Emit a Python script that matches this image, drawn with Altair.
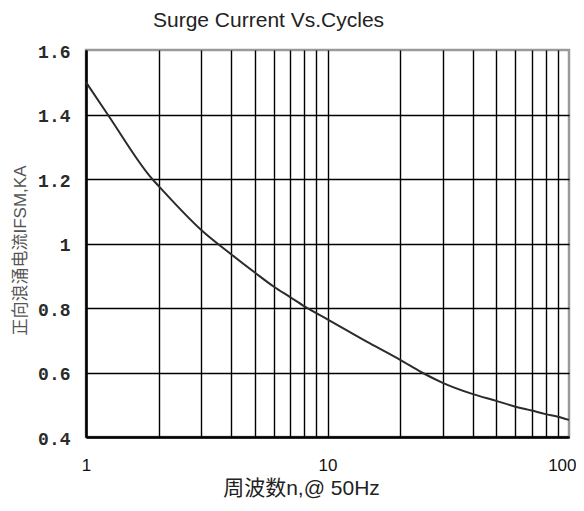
import altair as alt
import pandas as pd

cycles = [1, 1.23, 1.88, 2, 3, 4, 5, 6, 7, 8, 10, 15, 20, 24.6,
          30, 40, 50, 60, 70, 80, 90, 100]
current = [1.5, 1.4, 1.2, 1.178, 1.042, 0.966, 0.91, 0.866, 0.834,
           0.806, 0.765, 0.69, 0.639, 0.60, 0.568, 0.533, 0.512, 0.494,
           0.482, 0.471, 0.463, 0.453]

x_grid = [1, 2, 3, 4, 5, 6, 7, 8, 9, 10, 20, 30, 40, 50, 60, 70, 80, 90, 100]
x_labels = [1, 10, 100]
y_ticks = [0.4, 0.6, 0.8, 1.0, 1.2, 1.4, 1.6]

df = pd.DataFrame({"n": cycles, "i": current})

label_test = " || ".join(f"datum.value == {v}" for v in x_labels)

line = alt.Chart(df).mark_line(
    color="#2b2b2b", strokeWidth=2, interpolate="monotone"
).encode(
    x=alt.X(
        "n:Q",
        scale=alt.Scale(type="log", domain=[1, 100], nice=False),
        axis=alt.Axis(
            values=x_grid,
            labelExpr=f"({label_test}) ? toString(datum.value) : ''",
            labelFont="Liberation Sans",
            labelFontSize=17,
            labelColor="#111",
            labelPadding=20,
            labelFlush=False,
            labelOverlap=False,
            labelAlign={"condition": {"test": "datum.value >= 100", "value": "right"}, "value": "center"},
            labelOffset={"condition": {"test": "datum.value >= 100", "value": 7}, "value": 0},
            ticks=False,
            grid=True,
            gridColor="black",
            gridWidth=1.4,
            gridOpacity={"condition": {"test": "datum.value >= 100", "value": 0}, "value": 1},
            domainColor="black",
            domainWidth=2.5,
            title="周波数n,@ 50Hz",
            titleFont="Liberation Sans, Noto Sans CJK SC",
            titleFontSize=21,
            titleFontWeight="normal",
            titleColor="#222",
            titleX=215,
            titleY=51,
            titleBaseline="middle",
            titleAlign="center",
        ),
    ),
    y=alt.Y(
        "i:Q",
        scale=alt.Scale(domain=[0.4, 1.6], nice=False, zero=False),
        axis=alt.Axis(
            values=y_ticks,
            format="~g",
            labelFont="Liberation Mono",
            labelFontSize=18,
            labelFontWeight="bold",
            labelColor="#2a2a2a",
            labelPadding=16,
            labelOffset=2,
            ticks=False,
            grid=True,
            gridColor="black",
            gridWidth=1.6,
            gridOpacity={"condition": {"test": "datum.value >= 1.6", "value": 0}, "value": 1},
            domainColor="black",
            domainWidth=2.5,
            title="正向浪涌电流IFSM,KA",
            titleFont="Liberation Sans, Noto Sans CJK SC",
            titleFontSize=17,
            titleFontWeight="normal",
            titleColor="#555",
            titleX=-66,
            titleY=200,
            titleBaseline="middle",
            titleAlign="center",
            titleAngle=270,
        ),
    ),
)

chart = line.properties(
    width=483,
    height=387,
    autosize=alt.AutoSizeParams(type="none"),
    padding={"left": 78, "top": 42, "right": 7, "bottom": 62},
    title=alt.TitleParams(
        "Surge Current Vs.Cycles",
        anchor="start",
        frame="group",
        dx=67,
        offset=12,
        font="Liberation Sans",
        fontSize=21,
        fontWeight="normal",
        color="#222",
    ),
).configure_view(
    stroke="#9a9a9a", strokeWidth=2.5
)

chart.save("out.html", embed_options={"renderer": "svg", "actions": False})
